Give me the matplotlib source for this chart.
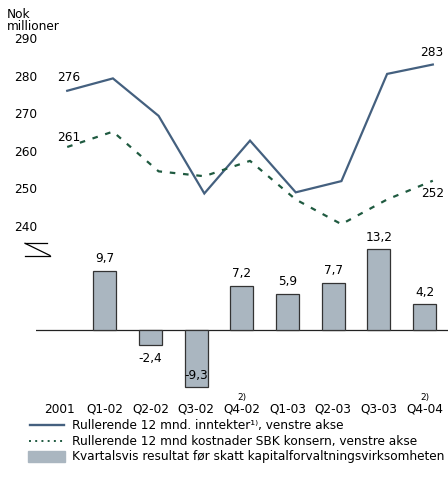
import matplotlib
matplotlib.use("Agg")
import matplotlib.pyplot as plt
from matplotlib.lines import Line2D
from matplotlib.patches import Rectangle

# Data
periods = ["2001", "Q1-02", "Q2-02", "Q3-02", "Q4-02",
           "Q1-03", "Q2-03", "Q3-03", "Q4-04"]
income = [276, 279.3, 269.3, 248.6, 262.7, 248.9, 251.9, 280.5, 283]
costs = [261, 265.1, 254.5, 253.2, 257.3, 247.0, 240.4, 247.0, 252]
result = [None, 9.7, -2.4, -9.3, 7.2, 5.9, 7.7, 13.2, 4.2]
footnote_periods = ["Q4-02", "Q4-04"]
y_ticks = [240, 250, 260, 270, 280, 290]

W, H = 448, 487
BLUE = "#44607f"
GREEN = "#1f5a40"
BAR = "#aab6c0"
FS = 8.7


def fx(px):
    return px / W


def fy(py):
    return 1 - py / H


def main():
    fig = plt.figure(figsize=(W / 100, H / 100), dpi=100)
    xlim = (-0.503, 8.512)
    left, width = fx(36), fx(448) - fx(36)

    # top: rolling 12 months lines
    ax1 = fig.add_axes([left, fy(225.7), width, fy(38.3) - fy(225.7)])
    ax1.set_xlim(*xlim)
    ax1.set_ylim(240, 290)
    xs = [i + 0.18 for i in range(len(periods))]
    ax1.plot(xs, income, color=BLUE, lw=1.6, solid_joinstyle="miter")
    ax1.plot(xs, costs, color=GREEN, lw=1.6, linestyle=(0, (2.5, 3.5)))
    for s in ax1.spines.values():
        s.set_visible(False)
    ax1.set_xticks([])
    ax1.set_yticks(y_ticks)
    ax1.set_yticklabels([str(t) for t in y_ticks], fontsize=FS)
    ax1.tick_params(axis="y", length=0, pad=-1)

    ann = dict(textcoords="offset pixels", ha="center", va="center",
               fontsize=FS)
    ax1.annotate(str(income[0]), (xs[0], income[0]), xytext=(1, 13), **ann)
    ax1.annotate(str(costs[0]), (xs[0], costs[0]), xytext=(2, 9), **ann)
    ax1.annotate(str(income[-1]), (xs[-1], income[-1]), xytext=(-1, 12),
                 **ann)
    ax1.annotate(str(costs[-1]), (xs[-1], costs[-1]), xytext=(0, -13),
                 **ann)

    # bottom: quarterly result bars
    ax2 = fig.add_axes([left, fy(395), width, fy(240) - fy(395)])
    ax2.set_xlim(*xlim)
    ax2.set_ylim(-10.656, 14.75)
    for i, v in enumerate(result):
        if v is None:
            continue
        ax2.bar(i, v, width=0.5, color=BAR, edgecolor="#333333", lw=0.9,
                zorder=2)
        if v >= 0:
            ly = v + 2.0
        elif v > -5:
            ly = v - 2.3
        else:
            ly = v + 1.9
        ax2.text(i, ly, f"{v:.1f}".replace(".", ","), ha="center",
                 va="center", fontsize=FS, zorder=3)
    ax2.axhline(0, color="#222222", lw=0.9, zorder=1)
    for s in ax2.spines.values():
        s.set_visible(False)
    ax2.set_xticks([])
    ax2.set_yticks([])

    # category labels
    for i, p in enumerate(periods):
        fig.text(fx(59 + 45.7 * i), fy(409.5), p, ha="center", va="center",
                 fontsize=FS)
        if p in footnote_periods:
            fig.text(fx(59 + 45.7 * i), fy(397.5), "2)", ha="center",
                     va="center", fontsize=6.5)

    # unit label
    fig.text(fx(7), fy(14), "Nok", fontsize=FS, va="center")
    fig.text(fx(7), fy(27), "millioner", fontsize=FS, va="center")

    # axis break symbol
    brk = dict(color="black", lw=0.9, transform=fig.transFigure)
    fig.add_artist(Line2D([fx(25), fx(47)], [fy(243.3), fy(243.3)], **brk))
    fig.add_artist(Line2D([fx(25), fx(50)], [fy(243.3), fy(255.5)], **brk))
    fig.add_artist(Line2D([fx(25), fx(50)], [fy(255.5), fy(255.5)], **brk))

    # legend
    fig.add_artist(Line2D([fx(30), fx(64)], [fy(425), fy(425)], color=BLUE,
                          lw=1.7, transform=fig.transFigure))
    fig.add_artist(Line2D([fx(29), fx(64)], [fy(441), fy(441)], color=GREEN,
                          lw=1.4, linestyle=(0, (1, 2.2)),
                          transform=fig.transFigure))
    fig.add_artist(Rectangle((fx(28), fy(462)), fx(65) - fx(28),
                             fy(451) - fy(462), color=BAR,
                             transform=fig.transFigure))
    legend_texts = [
        "Rullerende 12 mnd. inntekter\u00b9\u207e, venstre akse",
        "Rullerende 12 mnd kostnader SBK konsern, venstre akse",
        "Kvartalsvis resultat før skatt kapitalforvaltningsvirksomheten",
    ]
    for t, y in zip(legend_texts, [425, 441, 456.5]):
        fig.text(fx(72), fy(y), t, fontsize=FS, va="center")

    fig.savefig("out.png", dpi=100)


if __name__ == "__main__":
    main()
